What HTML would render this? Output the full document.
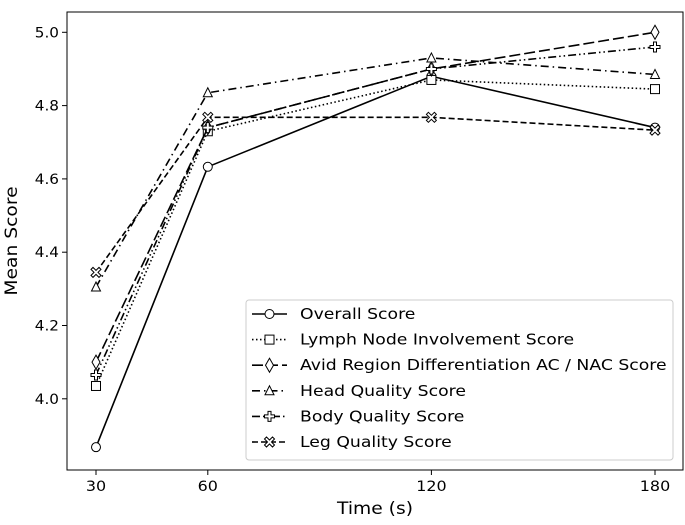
<!DOCTYPE html>
<html><head><meta charset="utf-8"><style>
body{margin:0;background:#fff;}
svg{display:block;font-family:"DejaVu Sans","Liberation Sans",sans-serif;}
</style></head><body>
<svg id="chart" width="685" height="525" viewBox="0 0 685 525"></svg>
<script>
const times=[30,60,120,180];
const overall=[3.868,4.633,4.88,4.74];
const lymph=[4.035,4.73,4.87,4.845];
const avid=[4.10,4.74,4.90,5.00];
const head=[4.305,4.835,4.93,4.885];
const body=[4.065,4.74,4.90,4.96];
const leg=[4.345,4.768,4.768,4.733];
const xTicks=[30,60,120,180];
const yTicks=[4.0,4.2,4.4,4.6,4.8,5.0];
const seriesNames=["Overall Score","Lymph Node Involvement Score","Avid Region Differentiation AC / NAC Score","Head Quality Score","Body Quality Score","Leg Quality Score"];

const NS="http://www.w3.org/2000/svg";
const svg=document.getElementById('chart');
const L=67,R=683,T=12,B=470;
function xs(v){return 96+(v-30)*(655-96)/150;}
function ys(v){return 32.3+(5.0-v)*366.5;}
function mk(tag,attrs,parent){const e=document.createElementNS(NS,tag);for(const k in attrs)e.setAttribute(k,attrs[k]);(parent||svg).appendChild(e);return e;}
function stext(x,y,str,size,sx,anchor,parent){
  const t=mk('text',{x:0,y:0,'font-size':size,'text-anchor':anchor||'start',transform:`translate(${x},${y}) scale(${sx},1)`},parent);
  t.textContent=str;return t;
}

const frame=mk('rect',{x:L,y:T,width:R-L,height:B-T,fill:'none',stroke:'#000','stroke-width':1});



xTicks.forEach(t=>{
  const g=mk('g',{});
  
  
  mk('line',{x1:xs(t),x2:xs(t),y1:B,y2:B+5,stroke:'#000'},g);
  stext(xs(t),B+21,String(t),14.5,1.1,'middle',g);
});
yTicks.forEach(t=>{
  const g=mk('g',{});
  
  
  mk('line',{x1:L-5,x2:L,y1:ys(t),y2:ys(t),stroke:'#000'},g);
  stext(L-8,ys(t)+5,t.toFixed(1),14.5,1.05,'end',g);
});
const xl=stext(375,514,'Time (s)',17,1.1,'middle');


const yl=mk('text',{x:0,y:0,'text-anchor':'middle','font-size':17,transform:'translate(17,241) rotate(-90) scale(1.1,1)'});yl.textContent='Mean Score';



const dashes=["","1.5,2.5","11,4","8,4,1.5,4","8,3,1.5,3,1.5,3","6,3"];
const markers=["circle","square","diamond","triangle","plus","x"];
const allData=[overall,lymph,avid,head,body,leg];
const keys=["overall","lymph","avid","head","body","leg"];
function marker(type,cx,cy,parent){
  const st={fill:'#fff',stroke:'#000','stroke-width':1};
  if(type==='circle')return mk('circle',Object.assign({cx,cy,r:4.5},st),parent);
  if(type==='square')return mk('rect',Object.assign({x:cx-4.5,y:cy-4.5,width:9,height:9},st),parent);
  if(type==='diamond')return mk('polygon',Object.assign({points:`${cx},${cy-7} ${cx+4},${cy} ${cx},${cy+7} ${cx-4},${cy}`},st),parent);
  if(type==='triangle')return mk('polygon',Object.assign({points:`${cx},${cy-5} ${cx+4.5},${cy+4} ${cx-4.5},${cy+4}`},st),parent);
  if(type==='plus')return mk('polygon',Object.assign({points:`${cx-1.5},${cy-5} ${cx+1.5},${cy-5} ${cx+1.5},${cy-1.5} ${cx+5},${cy-1.5} ${cx+5},${cy+1.5} ${cx+1.5},${cy+1.5} ${cx+1.5},${cy+5} ${cx-1.5},${cy+5} ${cx-1.5},${cy+1.5} ${cx-5},${cy+1.5} ${cx-5},${cy-1.5} ${cx-1.5},${cy-1.5}`},st),parent);
  return mk('polygon',Object.assign({points:`${cx-3},${cy-5} ${cx},${cy-2} ${cx+3},${cy-5} ${cx+5},${cy-3} ${cx+2},${cy} ${cx+5},${cy+3} ${cx+3},${cy+5} ${cx},${cy+2} ${cx-3},${cy+5} ${cx-5},${cy+3} ${cx-2},${cy} ${cx-5},${cy-3}`},st),parent);
}
allData.forEach((d,i)=>{
  const g=mk('g',{});
  
  
  const pts=d.map((v,j)=>xs(times[j])+','+ys(v)).join(' ');
  const pl=mk('polyline',{points:pts,fill:'none',stroke:'#000','stroke-width':1.6,'stroke-dasharray':dashes[i]},g);
  
  
  d.forEach((v,j)=>{
    const m=marker(markers[i],xs(times[j]),ys(v),g);
    
    
  });
});

const lg=mk('g',{});


mk('rect',{x:246,y:300,width:427,height:160,rx:3,fill:'#fff','fill-opacity':0.8,stroke:'#ccc'},lg);
seriesNames.forEach((n,i)=>{
  const y=314+i*25.6;
  const e=mk('g',{},lg);
  
  
  mk('line',{x1:252,x2:287,y1:y,y2:y,stroke:'#000','stroke-width':1.6,'stroke-dasharray':dashes[i]},e);
  marker(markers[i],269.5,y,e);
  stext(300,y+5,n,15,1.15,'start',e);
});
</script>
</body></html>
